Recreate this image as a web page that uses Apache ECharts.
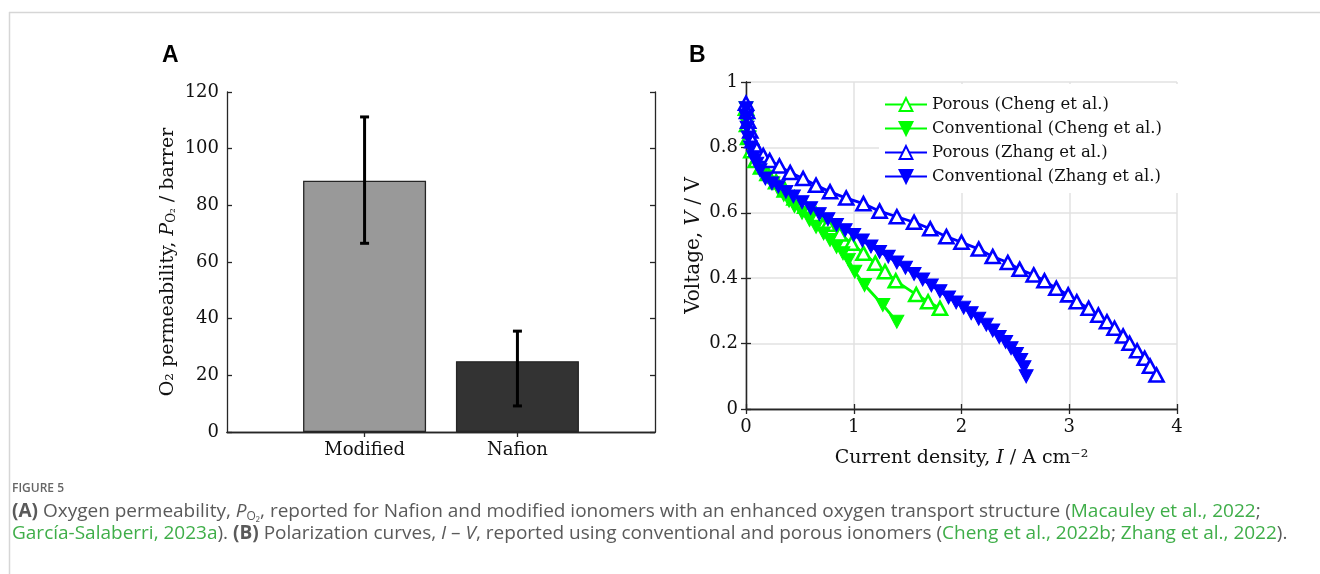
<!DOCTYPE html>
<html>
<head>
<meta charset="utf-8">
<script src="https://cdn.jsdelivr.net/npm/echarts@6/dist/echarts.min.js"></script>
<style>
  html, body { margin: 0; padding: 0; background: #fff; }
  #chart { width: 1320px; height: 574px; }
</style>
</head>
<body>
<div id="chart"></div>
<script>
// panel A: oxygen permeability
var barCats = ['Modified', 'Nafion'];
var barValues = [88.7, 25];
var errLow = [66.6, 9.2];
var errHigh = [111.2, 35.6];
var barColors = ['#999999', '#333333'];

// panel B: polarization curves (I in A cm^-2, V in V)
var chengPorousI = [0, 0.01, 0.02, 0.05, 0.09, 0.14, 0.2, 0.28, 0.36, 0.45, 0.55, 0.65, 0.76, 0.87, 0.98, 1.09, 1.2, 1.29, 1.39, 1.58, 1.69, 1.8];
var chengPorousV = [0.92, 0.87, 0.83, 0.79, 0.76, 0.74, 0.72, 0.695, 0.67, 0.645, 0.62, 0.595, 0.565, 0.535, 0.507, 0.476, 0.446, 0.42, 0.392, 0.35, 0.328, 0.308];
var chengConvI = [0, 0.01, 0.03, 0.06, 0.1, 0.15, 0.2, 0.25, 0.3, 0.35, 0.4, 0.45, 0.52, 0.59, 0.65, 0.72, 0.78, 0.84, 0.9, 0.95, 1.01, 1.1, 1.27, 1.4];
var chengConvV = [0.92, 0.87, 0.83, 0.79, 0.76, 0.735, 0.71, 0.69, 0.672, 0.655, 0.637, 0.62, 0.6, 0.578, 0.557, 0.537, 0.517, 0.496, 0.476, 0.456, 0.42, 0.379, 0.318, 0.267];
var zhangPorousI = [0, 0.01, 0.02, 0.04, 0.06, 0.1, 0.16, 0.22, 0.31, 0.41, 0.53, 0.65, 0.78, 0.93, 1.09, 1.24, 1.4, 1.56, 1.71, 1.86, 2.0, 2.16, 2.29, 2.43, 2.54, 2.67, 2.77, 2.88, 2.99, 3.07, 3.18, 3.27, 3.35, 3.42, 3.5, 3.56, 3.63, 3.7, 3.75, 3.81];
var zhangPorousV = [0.935, 0.91, 0.88, 0.85, 0.82, 0.795, 0.775, 0.76, 0.743, 0.723, 0.705, 0.684, 0.664, 0.645, 0.628, 0.605, 0.588, 0.571, 0.551, 0.527, 0.51, 0.489, 0.466, 0.448, 0.427, 0.41, 0.392, 0.369, 0.349, 0.328, 0.308, 0.287, 0.267, 0.247, 0.223, 0.201, 0.178, 0.155, 0.131, 0.104];
var zhangConvI = [0, 0.005, 0.01, 0.02, 0.04, 0.07, 0.1, 0.13, 0.18, 0.24, 0.3, 0.37, 0.44, 0.52, 0.6, 0.68, 0.76, 0.84, 0.92, 1.0, 1.08, 1.16, 1.24, 1.32, 1.4, 1.48, 1.56, 1.64, 1.72, 1.8, 1.88, 1.95, 2.02, 2.09, 2.16, 2.23, 2.29, 2.35, 2.41, 2.46, 2.51, 2.55, 2.58, 2.6];
var zhangConvV = [0.92, 0.89, 0.86, 0.83, 0.8, 0.77, 0.75, 0.73, 0.705, 0.69, 0.68, 0.664, 0.65, 0.632, 0.614, 0.596, 0.58, 0.563, 0.547, 0.532, 0.515, 0.497, 0.48, 0.466, 0.448, 0.432, 0.413, 0.396, 0.378, 0.36, 0.341, 0.326, 0.31, 0.293, 0.276, 0.258, 0.24, 0.22, 0.205, 0.186, 0.168, 0.15, 0.128, 0.1];

var SERIF = 'DejaVu Serif';
var AXC = '#262626';
var TXT = '#111';

function pairs(xs, ys){
    var out = [];
    for(var i=0;i<xs.length;i++){
        out.push([xs[i], ys[i]]);
    }
    return out;
}

// 一条带标记的折线
function curve(name, xs, ys, color, open, down){
    return {
        name: name,
        type: 'line',
        xAxisIndex: 2,
        yAxisIndex: 2,
        data: pairs(xs, ys),
        symbol: 'triangle',
        symbolSize: [14, 13],
        symbolRotate: down ? 180 : 0,
        showAllSymbol: true,
        lineStyle: { color: color, width: 2.8 },
        itemStyle: open ? { color: '#fff', borderColor: color, borderWidth: 2.6 } : { color: color, borderColor: color, borderWidth: 1 },
        emphasis: { disabled: true },
        animation: false,
        z: 3
    };
}

var boxLine = { show: true, lineStyle: { color: AXC, width: 1.3 } };
var tickIn = { show: true, inside: true, length: 5, lineStyle: { color: AXC, width: 1.3 } };
var italic = { fontFamily: SERIF, fontStyle: 'italic', fontSize: 19, color: TXT };

var chart = echarts.init(document.getElementById('chart'));
var option = {
    animation: false,
    grid: [
        { left: 227, top: 92, width: 428, height: 340 },
        { left: 746, top: 82, width: 431, height: 327 }
    ],
    xAxis: [
        {
            gridIndex: 0, type: 'value', min: 0.1, max: 2.9,
            axisLine: boxLine,
            axisTick: { show: true, inside: true, length: 5, customValues: [1, 2], lineStyle: { color: AXC, width: 1.3 } },
            axisLabel: { customValues: [1, 2], margin: 9, formatter: function(v){ return barCats[Math.round(v)-1] || ''; }, fontFamily: SERIF, fontSize: 18, color: TXT },
            splitLine: { show: false }
        },
        {
            gridIndex: 0, type: 'value', min: 0.1, max: 2.9, position: 'top',
            axisLine: boxLine,
            axisTick: { show: true, inside: true, length: 5, customValues: [1, 2], lineStyle: { color: AXC, width: 1.3 } },
            axisLabel: { show: false },
            splitLine: { show: false }
        },
        {
            gridIndex: 1, type: 'value', min: 0, max: 4, interval: 1,
            axisLine: boxLine, axisTick: tickIn,
            axisLabel: { margin: 9, fontFamily: SERIF, fontSize: 18, color: TXT },
            splitLine: { show: true, lineStyle: { color: '#e2e2e2', width: 1.5 } },
            name: 'Current density, {i|I} / A cm⁻²',
            nameLocation: 'middle', nameGap: 40,
            nameTextStyle: { fontFamily: SERIF, fontSize: 19, color: TXT, rich: { i: italic } }
        },
        {
            gridIndex: 1, type: 'value', min: 0, max: 4, interval: 1, position: 'top',
            axisLine: boxLine, axisTick: tickIn,
            axisLabel: { show: false }, splitLine: { show: false }
        }
    ],
    yAxis: [
        {
            gridIndex: 0, type: 'value', min: 0, max: 120, interval: 20,
            axisLine: boxLine, axisTick: tickIn,
            axisLabel: { margin: 8, fontFamily: SERIF, fontSize: 18, color: TXT },
            splitLine: { show: false },
            name: 'O₂ permeability, {i|P}{s|O₂} / barrer',
            nameLocation: 'middle', nameGap: 49, nameRotate: 90,
            nameTextStyle: { fontFamily: SERIF, fontSize: 19, color: TXT, rich: {
                i: italic,
                s: { fontFamily: SERIF, fontSize: 12, color: TXT, verticalAlign: 'bottom', padding: [6, 0, 0, 0] }
            } }
        },
        {
            gridIndex: 0, type: 'value', min: 0, max: 120, interval: 20, position: 'right',
            axisLine: boxLine, axisTick: tickIn,
            axisLabel: { show: false }, splitLine: { show: false }
        },
        {
            gridIndex: 1, type: 'value', min: 0, max: 1, interval: 0.2,
            axisLine: boxLine, axisTick: tickIn,
            axisLabel: { margin: 8, fontFamily: SERIF, fontSize: 18, color: TXT },
            splitLine: { show: true, lineStyle: { color: '#e2e2e2', width: 1.5 } },
            name: 'Voltage, {i|V} / V',
            nameLocation: 'middle', nameGap: 42, nameRotate: 90,
            nameTextStyle: { fontFamily: SERIF, fontSize: 20, color: TXT, rich: { i: { fontFamily: SERIF, fontStyle: 'italic', fontSize: 20, color: TXT } } }
        },
        {
            gridIndex: 1, type: 'value', min: 0, max: 1, interval: 0.2, position: 'right',
            axisLine: boxLine, axisTick: tickIn,
            axisLabel: { show: false }, splitLine: { show: false }
        }
    ],
    legend: {
        left: 879, top: 84,
        orient: 'vertical',
        backgroundColor: '#fff',
        padding: [12, 16, 8, 5],
        itemGap: 7,
        itemWidth: 42, itemHeight: 16,
        textStyle: { fontFamily: SERIF, fontSize: 16.5, color: TXT },
        data: ['Porous (Cheng et al.)', 'Conventional (Cheng et al.)', 'Porous (Zhang et al.)', 'Conventional (Zhang et al.)'],
        z: 5
    },
    series: [
        {
            type: 'bar',
            xAxisIndex: 0, yAxisIndex: 0,
            barWidth: 123,
            data: barValues.map(function(v, i){
                return { value: [i+1, v], itemStyle: { color: barColors[i], borderColor: '#262626', borderWidth: 1.3 } };
            }),
            emphasis: { disabled: true },
            z: 2
        },
        {
            type: 'custom',
            xAxisIndex: 0, yAxisIndex: 0,
            data: barCats.map(function(c, i){ return [i+1, errLow[i], errHigh[i]]; }),
            renderItem: function(params, api){
                var lo = api.coord([api.value(0), api.value(1)]);
                var hi = api.coord([api.value(0), api.value(2)]);
                var w = 4.5;
                var st = { stroke: '#000', lineWidth: 3 };
                return {
                    type: 'group',
                    children: [
                        { type: 'line', shape: { x1: lo[0], y1: lo[1], x2: hi[0], y2: hi[1] }, style: st },
                        { type: 'line', shape: { x1: hi[0]-w, y1: hi[1], x2: hi[0]+w, y2: hi[1] }, style: st },
                        { type: 'line', shape: { x1: lo[0]-w, y1: lo[1], x2: lo[0]+w, y2: lo[1] }, style: st }
                    ]
                };
            },
            z: 4
        },
        curve('Porous (Cheng et al.)', chengPorousI, chengPorousV, '#00ff00', true, false),
        curve('Conventional (Cheng et al.)', chengConvI, chengConvV, '#00ff00', false, true),
        curve('Porous (Zhang et al.)', zhangPorousI, zhangPorousV, '#0000ff', true, false),
        curve('Conventional (Zhang et al.)', zhangConvI, zhangConvV, '#0000ff', false, true)
    ],
    graphic: [
        { type: 'line', shape: { x1: 9, y1: 12.5, x2: 1320, y2: 12.5 }, style: { stroke: '#d6d6d6', lineWidth: 1.5 } },
        { type: 'line', shape: { x1: 9.5, y1: 12, x2: 9.5, y2: 574 }, style: { stroke: '#d6d6d6', lineWidth: 1.5 } },
        { type: 'text', left: 162, top: 44, style: { text: 'A', fontFamily: 'Liberation Sans', fontWeight: 'bold', fontSize: 23, fill: '#000' } },
        { type: 'text', left: 689, top: 44, style: { text: 'B', fontFamily: 'Liberation Sans', fontWeight: 'bold', fontSize: 23, fill: '#000' } },
        { type: 'text', left: 12, top: 483, style: { text: 'FIGURE 5', fontFamily: 'Open Sans', fontWeight: 600, fontSize: 12, fill: '#666' } },
        {
            type: 'text', left: 12, top: 501,
            style: {
                text: '{b|(A)} Oxygen permeability, {i|P}{s|O₂}, reported for Nafion and modified ionomers with an enhanced oxygen transport structure ({g|Macauley et al., 2022};\n' +
                      '{g|García-Salaberri, 2023a}). {b|(B)} Polarization curves, {i|I} – {i|V}, reported using conventional and porous ionomers ({g|Cheng et al., 2022b}; {g|Zhang et al., 2022}).',
                fontFamily: 'Open Sans', fontSize: 19, fill: '#5a5a5a', lineHeight: 22,
                rich: {
                    b: { fontFamily: 'Open Sans', fontWeight: 'bold', fontSize: 19, fill: '#5a5a5a', lineHeight: 22 },
                    i: { fontFamily: 'Open Sans', fontStyle: 'italic', fontSize: 19, fill: '#5a5a5a', lineHeight: 22 },
                    s: { fontFamily: 'Open Sans', fontSize: 12, fill: '#5a5a5a', lineHeight: 22, verticalAlign: 'bottom', padding: [7, 0, 0, 0] },
                    g: { fontFamily: 'Open Sans', fontSize: 19, fill: '#3fae49', lineHeight: 22 }
                }
            }
        }
    ]
};
chart.setOption(option);
</script>
</body>
</html>
